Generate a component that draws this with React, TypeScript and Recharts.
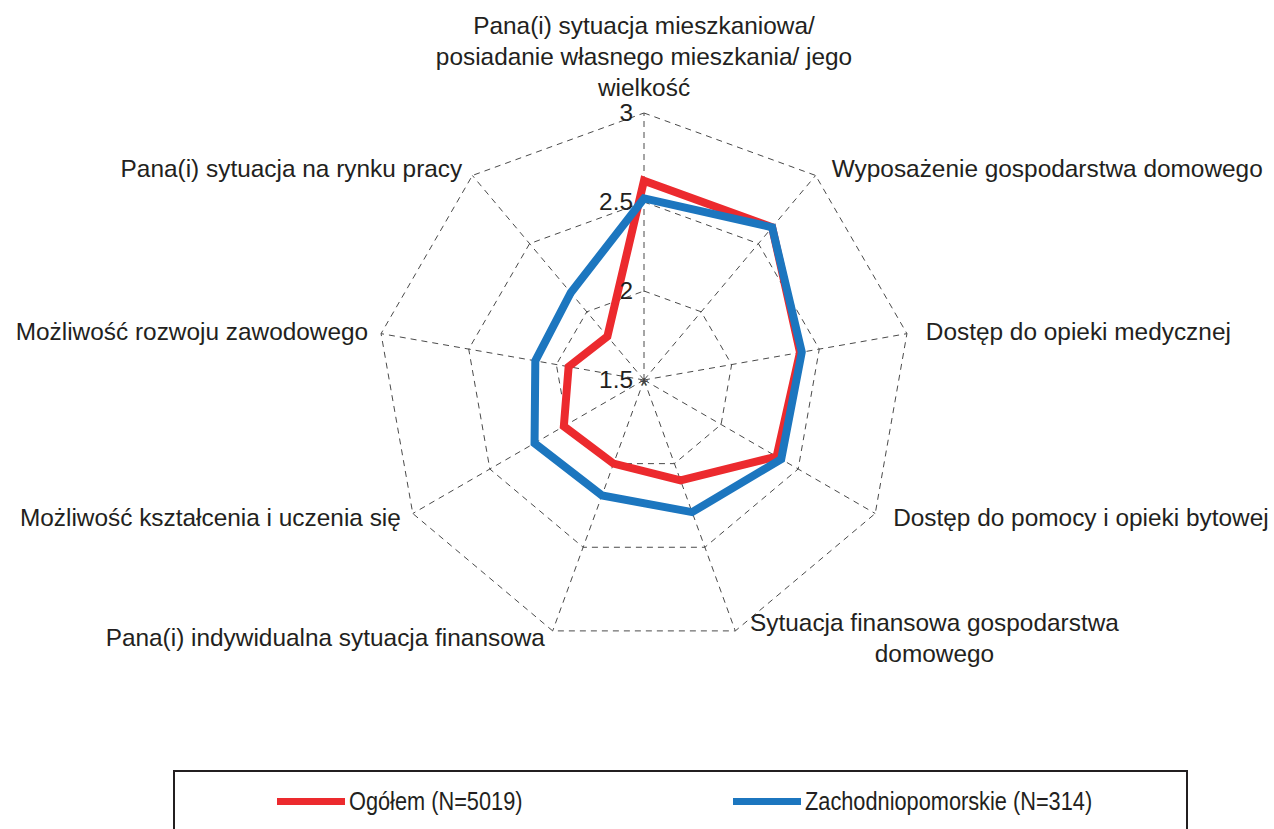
import React from 'react';
import { RadarChart, Radar, PolarGrid, PolarAngleAxis, PolarRadiusAxis } from 'recharts';

const categories = [
  'Pana(i) sytuacja mieszkaniowa/\nposiadanie własnego mieszkania/ jego\nwielkość',
  'Wyposażenie gospodarstwa domowego',
  'Dostęp do opieki medycznej',
  'Dostęp do pomocy i opieki bytowej',
  'Sytuacja finansowa gospodarstwa\ndomowego',
  'Pana(i) indywidualna sytuacja finansowa',
  'Możliwość kształcenia i uczenia się',
  'Możliwość rozwoju zawodowego',
  'Pana(i) sytuacja na rynku pracy',
];

const ogolem = [2.62, 2.62, 2.39, 2.36, 2.1, 2.0, 2.02, 1.93, 1.82];
const zachodniopomorskie = [2.52, 2.62, 2.4, 2.39, 2.29, 2.19, 2.21, 2.12, 2.14];

const radiusTicks = [1.5, 2, 2.5, 3];

const seriesNames = ['Ogółem (N=5019)', 'Zachodniopomorskie (N=314)'];

const colors = {
  red: '#ec2a2e',
  blue: '#1c76bf',
  text: '#231f20',
  grid: '#4a4a4a',
};

const FONT = '"Liberation Sans", Arial, sans-serif';
const FS = 24.4;
const CX = 644;
const CY = 380;
const R = 267;

const data = categories.map((subject, i) => ({
  subject,
  ogolem: ogolem[i],
  zachodnio: zachodniopomorskie[i],
}));

let ctx: CanvasRenderingContext2D | null = null;
const textWidth = (s: string) => {
  if (!ctx) {
    ctx = document.createElement('canvas').getContext('2d');
  }
  if (!ctx) return s.length * FS * 0.5;
  ctx.font = `${FS}px "Liberation Sans"`;
  return ctx.measureText(s).width;
};

const AngleTick = (props: any) => {
  const { x, y, payload } = props;
  const lines: string[] = String(payload.value).split('\n');
  const dx = x - CX;
  const lh = 31;
  const common = { fill: colors.text, fontSize: FS, fontFamily: FONT };

  if (Math.abs(dx) < 2) {
    // top label sits above the axis end
    return (
      <text {...common} textAnchor="middle">
        {lines.map((l, i) => (
          <tspan key={i} x={x} y={y - 9 - (lines.length - 1 - i) * lh}>
            {l}
          </tspan>
        ))}
      </text>
    );
  }

  const top = y + 8 - ((lines.length - 1) * lh) / 2;
  if (lines.length > 1) {
    const w = Math.max(...lines.map(textWidth));
    const mid = dx > 0 ? x + 12 + w / 2 : x - 5 - w / 2;
    return (
      <text {...common} textAnchor="middle">
        {lines.map((l, i) => (
          <tspan key={i} x={mid} y={top + i * lh}>
            {l}
          </tspan>
        ))}
      </text>
    );
  }

  return (
    <text {...common} x={dx > 0 ? x + 11 : x - 5} y={top} textAnchor={dx > 0 ? 'start' : 'end'}>
      {lines[0]}
    </text>
  );
};

const RadiusTick = (props: any) => {
  const { x, y, payload } = props;
  return (
    <g>
      <text x={x - 11} y={y + 8} textAnchor="end" fill={colors.text} fontSize={FS} fontFamily={FONT}>
        {payload.value}
      </text>
      {payload.value === radiusTicks[0] && (
        <text x={x} y={y + 13} textAnchor="middle" fill="#444" fontSize={22} fontFamily={FONT}>
          *
        </text>
      )}
    </g>
  );
};

const LegendItem = ({ color, label, left }: { color: string; label: string; left: number }) => (
  <div style={{ position: 'absolute', left, top: 15, display: 'flex', alignItems: 'center' }}>
    <div style={{ width: 68, height: 7, background: color, marginRight: 4 }} />
    <span
      style={{
        display: 'inline-block',
        fontFamily: FONT,
        fontSize: 25,
        color: colors.text,
        lineHeight: '28px',
        whiteSpace: 'nowrap',
        transform: 'scaleX(0.87)',
        transformOrigin: 'left center',
      }}
    >
      {label}
    </span>
  </div>
);

export default function App() {
  return (
    <div style={{ position: 'absolute', left: 0, top: 0, width: 1274, height: 829, background: '#fff', overflow: 'hidden' }}>
      <RadarChart
        width={1274}
        height={829}
        data={data}
        cx={CX}
        cy={CY}
        outerRadius={R}
        margin={{ top: 0, right: 0, bottom: 0, left: 0 }}
      >
        <PolarGrid gridType="polygon" stroke={colors.grid} strokeWidth={1} strokeDasharray="6 5" />
        <PolarAngleAxis dataKey="subject" tick={AngleTick} tickLine={false} axisLine={false} />
        <PolarRadiusAxis
          angle={90}
          domain={[1.5, 3]}
          ticks={radiusTicks}
          tickCount={4}
          axisLine={false}
          tick={RadiusTick}
        />
        <Radar
          name={seriesNames[0]}
          dataKey="ogolem"
          stroke={colors.red}
          strokeWidth={8}
          strokeLinejoin="miter"
          fill="none"
          fillOpacity={0}
          dot={false}
          isAnimationActive={false}
        />
        <Radar
          name={seriesNames[1]}
          dataKey="zachodnio"
          stroke={colors.blue}
          strokeWidth={8}
          strokeLinejoin="miter"
          fill="none"
          fillOpacity={0}
          dot={false}
          isAnimationActive={false}
        />
      </RadarChart>
      <div
        style={{
          position: 'absolute',
          left: 173,
          top: 770,
          width: 1011,
          height: 80,
          border: `2px solid ${colors.text}`,
          background: '#fff',
        }}
      >
        <LegendItem color={colors.red} label={seriesNames[0]} left={102} />
        <LegendItem color={colors.blue} label={seriesNames[1]} left={558} />
      </div>
    </div>
  );
}
